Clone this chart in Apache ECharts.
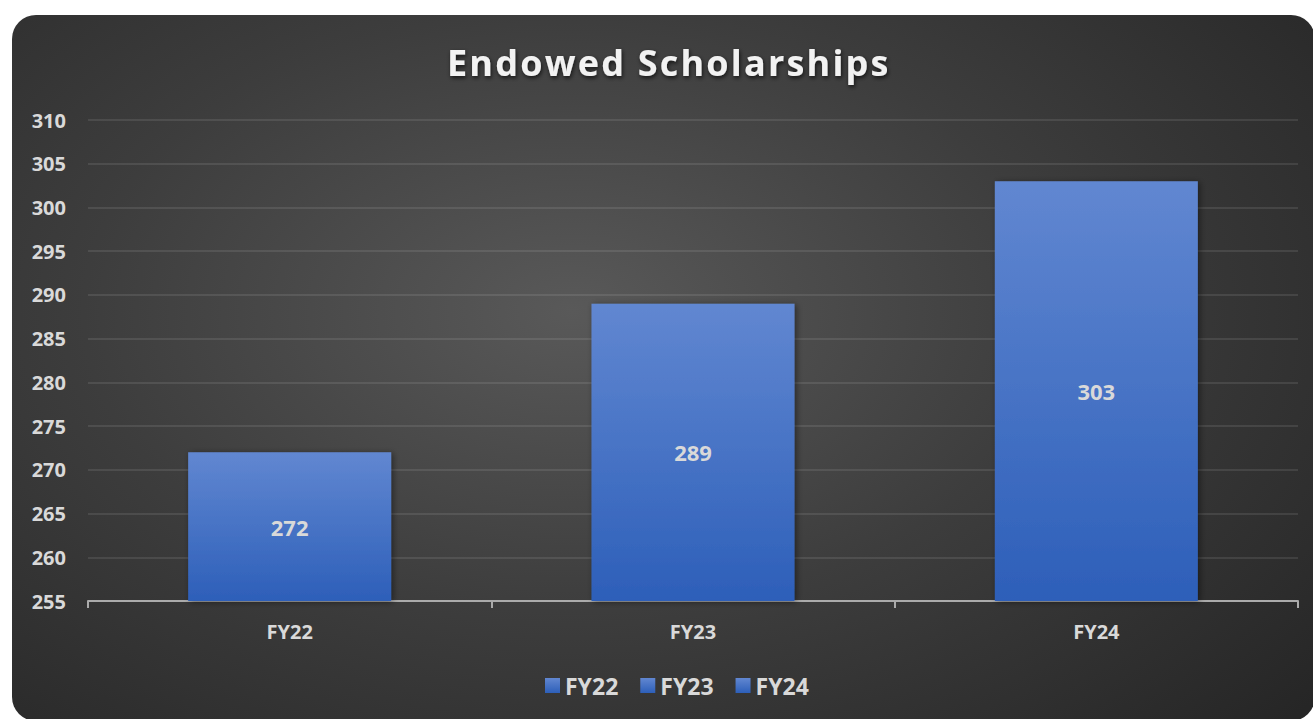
<!DOCTYPE html>
<html>
<head>
<meta charset="utf-8">
<script src="https://cdn.jsdelivr.net/npm/echarts@6/dist/echarts.min.js"></script>
<style>
  html, body { margin: 0; padding: 0; background: #fff; width: 1313px; height: 719px; overflow: hidden; }
  #main {
    position: absolute; left: 12px; top: 15px; width: 1303px; height: 706px;
    border-radius: 24px; overflow: hidden;
    background: radial-gradient(ellipse 75% 85% at 43% 42%, #595959 0%, #3d3d3d 50%, #262626 100%);
  }
</style>
</head>
<body>
<div id="main"></div>
<script>
// data
const categories = ["FY22", "FY23", "FY24"]
const values = [272, 289, 303]
const yMin = 255
const yMax = 310
const yStep = 5
const titleText = "Endowed Scholarships"

const font = "'Open Sans', 'Noto Sans', sans-serif"
const labelGrey = "#d9d9d9"

const barColor = new echarts.graphic.LinearGradient(0, 0, 0, 1, [
  { offset: 0, color: "#6187d1" },
  { offset: 1, color: "#2d5fb9" }
])

// one series per year so the legend lists each year
const series = categories.map((name, i) => ({
  name: name,
  type: "bar",
  barWidth: 203,
  barGap: "-100%",
  data: categories.map((c, j) => (j === i ? values[i] : null)),
  itemStyle: {
    color: barColor,
    shadowColor: "rgba(0,0,0,0.45)",
    shadowBlur: 6,
    shadowOffsetX: 2,
    shadowOffsetY: 1
  },
  label: {
    show: true,
    position: "inside",
    color: labelGrey,
    fontFamily: font,
    fontWeight: "bold",
    fontSize: 22
  }
}))

const options = {
  animation: false,
  title: {
    text: titleText,
    left: 430,
    top: 24,
    textStyle: {
      color: "#f2f2f2",
      fontFamily: font,
      fontWeight: "bold",
      fontSize: 36,
      textShadowColor: "rgba(0,0,0,0.7)",
      textShadowBlur: 4,
      textShadowOffsetX: 1,
      textShadowOffsetY: 2
    }
  },
  legend: {
    bottom: 19,
    left: 528,
    itemWidth: 15,
    itemHeight: 15,
    itemGap: 22,
    icon: "rect",
    textStyle: { color: labelGrey, fontFamily: font, fontWeight: "bold", fontSize: 23 },
    data: categories
  },
  grid: { left: 76, right: 17, top: 105, bottom: 120 },
  xAxis: {
    type: "category",
    data: categories,
    axisLine: { lineStyle: { color: "#ababab", width: 2 } },
    axisTick: { show: true, length: 7, lineStyle: { color: "#ababab", width: 2 } },
    axisLabel: { color: labelGrey, fontFamily: font, fontWeight: "bold", fontSize: 20, margin: 20 }
  },
  yAxis: {
    type: "value",
    min: yMin,
    max: yMax,
    interval: yStep,
    axisLine: { show: false },
    axisTick: { show: false },
    axisLabel: { color: labelGrey, fontFamily: font, fontWeight: "bold", fontSize: 20, margin: 22 },
    splitLine: { lineStyle: { color: "rgba(255,255,255,0.13)", width: 1.5 } }
  },
  series: series
}

const chartContainer = document.getElementById("main")
const myChart = echarts.init(chartContainer, null, { renderer: "svg" })
myChart.setOption(options)
window.onresize = () => myChart.resize()

// spaced-out title letters, as in the original
chartContainer.querySelectorAll("text").forEach(t => {
  if (t.textContent === titleText) t.setAttribute("letter-spacing", "2.2px")
})
</script>
</body>
</html>
